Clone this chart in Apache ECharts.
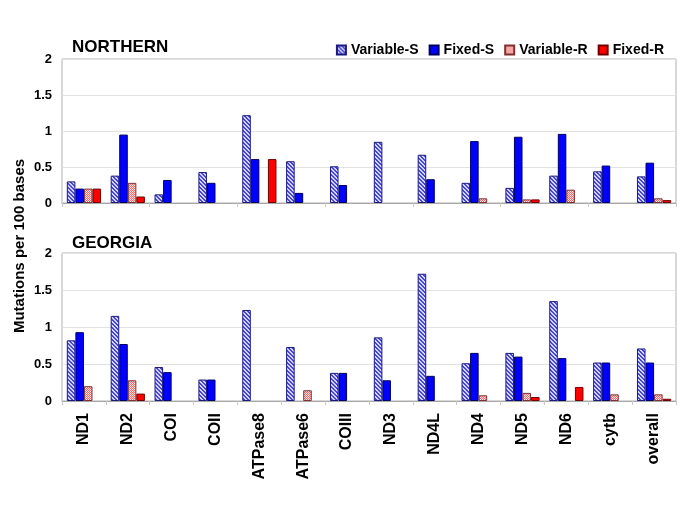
<!DOCTYPE html>
<html>
<head>
<meta charset="utf-8">
<script src="https://cdn.jsdelivr.net/npm/echarts@6/dist/echarts.min.js"></script>
<style>html,body{margin:0;padding:0;background:#fff;}#chart{width:685px;height:513px;}</style>
</head>
<body>
<div id="chart"></div>
<script>
const categories = ['ND1','ND2','COI','COII','ATPase8','ATPase6','COIII','ND3','ND4L','ND4','ND5','ND6','cytb','overall'];
const seriesNames = ['Variable-S','Fixed-S','Variable-R','Fixed-R'];
const yTicks = [0, 0.5, 1, 1.5, 2];

const northernVariableS = [0.30,0.38,0.12,0.43,1.22,0.58,0.51,0.85,0.67,0.28,0.21,0.38,0.44,0.37];
const northernFixedS    = [0.20,0.95,0.32,0.28,0.61,0.14,0.25,null,0.33,0.86,0.92,0.96,0.52,0.56];
const northernVariableR = [0.20,0.28,null,null,null,null,null,null,null,0.065,0.05,0.185,null,0.065];
const northernFixedR    = [0.20,0.09,null,null,0.61,null,null,null,null,null,0.05,null,null,0.04];

const georgiaVariableS = [0.82,1.15,0.46,0.29,1.23,0.73,0.38,0.86,1.72,0.51,0.65,1.35,0.52,0.71];
const georgiaFixedS    = [0.93,0.77,0.39,0.29,null,null,0.38,0.28,0.34,0.65,0.60,0.58,0.52,0.52];
const georgiaVariableR = [0.20,0.28,null,null,null,0.145,null,null,null,0.077,0.11,null,0.09,0.09];
const georgiaFixedR    = [null,0.10,null,null,null,null,null,null,null,null,0.054,0.19,null,0.03];

function makePattern(bg, fg) {
  const c = document.createElement('canvas');
  c.width = 4; c.height = 4;
  const ctx = c.getContext('2d');
  ctx.fillStyle = bg; ctx.fillRect(0,0,4,4);
  ctx.fillStyle = fg;
  for (let y = 0; y < 4; y++) {
    ctx.fillRect(y % 4, y, 1, 1);
    ctx.fillRect((y + 1) % 4, y, 1, 1);
  }
  return c;
}
function makeChecker(bg, fg) {
  const c = document.createElement('canvas');
  c.width = 2; c.height = 2;
  const ctx = c.getContext('2d');
  ctx.fillStyle = bg; ctx.fillRect(0,0,2,2);
  ctx.fillStyle = fg;
  ctx.fillRect(0,0,1,1); ctx.fillRect(1,1,1,1);
  return c;
}
const blueHatch = { image: makePattern('#d4d4ff', '#4646d8'), repeat: 'repeat' };
const redHatch = { image: makeChecker('#ffe0e0', '#f06a6a'), repeat: 'repeat' };

const FONT = 'Arial, "Liberation Sans", sans-serif';
const styles = [
  { color: blueHatch, borderColor: '#1a1a80' },
  { color: '#0000ff', borderColor: '#000060' },
  { color: redHatch, borderColor: '#803030' },
  { color: '#ff0000', borderColor: '#700000' }
];
const northern = [northernVariableS, northernFixedS, northernVariableR, northernFixedR];
const georgia = [georgiaVariableS, georgiaFixedS, georgiaVariableR, georgiaFixedR];

const series = [];
[northern, georgia].forEach((panel, p) => {
  panel.forEach((data, i) => {
    series.push({
      name: seriesNames[i],
      type: 'bar',
      xAxisIndex: p, yAxisIndex: p,
      data: data,
      barGap: '0%',
      barCategoryGap: '22%',
      itemStyle: { color: styles[i].color, borderColor: styles[i].borderColor, borderWidth: 1 },
      emphasis: { disabled: true },
      animation: false
    });
  });
});

function yAxis(gi) {
  return {
    type: 'value', gridIndex: gi, min: yTicks[0], max: yTicks[yTicks.length - 1], interval: 0.5,
    axisLine: { show: false }, axisTick: { show: false },
    axisLabel: { fontFamily: FONT, fontWeight: 'bold', fontSize: 13, color: '#000', margin: 10 },
    splitLine: { lineStyle: { color: '#e2e2e2' } }
  };
}
function xAxis(gi, showLabels) {
  return {
    type: 'category', gridIndex: gi, data: categories,
    axisLine: { lineStyle: { color: '#a8a8a8' } },
    axisTick: { show: true, length: 4, lineStyle: { color: '#c8c8c8' } },
    axisLabel: showLabels ? { rotate: 90, fontFamily: FONT, fontWeight: 'bold', fontSize: 16, color: '#000', margin: 12 } : { show: false }
  };
}

const chart = echarts.init(document.getElementById('chart'), null, { renderer: 'canvas' });
chart.setOption({
  backgroundColor: '#ffffff',
  animation: false,
  legend: {
    data: seriesNames,
    right: 16, top: 38,
    itemWidth: 9, itemHeight: 9, itemGap: 10,
    icon: 'rect',
    textStyle: { fontFamily: FONT, fontWeight: 'bold', fontSize: 14, color: '#000' },
    selectedMode: false
  },
  grid: [
    { left: 62, top: 59, width: 614, height: 144, show: true, borderColor: '#b0b0b0', borderWidth: 1, containLabel: false },
    { left: 62, top: 253, width: 614, height: 148, show: true, borderColor: '#b0b0b0', borderWidth: 1, containLabel: false }
  ],
  xAxis: [xAxis(0, false), xAxis(1, true)],
  yAxis: [yAxis(0), yAxis(1)],
  series: series,
  graphic: [
    { type: 'text', left: 72, top: 39, style: { text: 'NORTHERN', fontFamily: FONT, fontWeight: 'bold', fontSize: 17, fill: '#000' } },
    { type: 'text', left: 72, top: 235, style: { text: 'GEORGIA', fontFamily: FONT, fontWeight: 'bold', fontSize: 17, fill: '#000' } },
    { type: 'text', x: 20, y: 246, rotation: Math.PI / 2,
      style: { text: 'Mutations per 100 bases', fontFamily: FONT, fontWeight: 'bold', fontSize: 15, fill: '#000', align: 'center', verticalAlign: 'middle' } }
  ]
});
</script>
</body>
</html>
